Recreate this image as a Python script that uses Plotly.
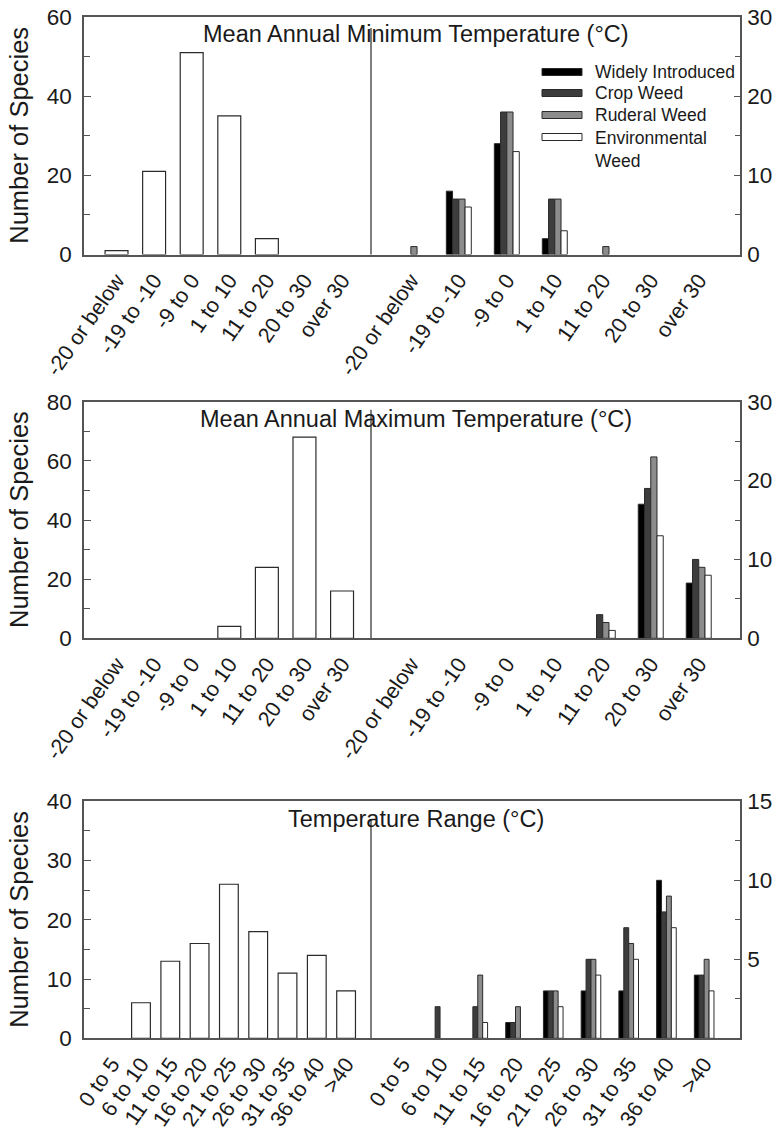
import plotly.graph_objects as go

# ---- data -------------------------------------------------------------
temp_categories = ["-20 or below", "-19 to -10", "-9 to 0", "1 to 10",
                   "11 to 20", "20 to 30", "over 30"]
range_categories = ["0 to 5", "6 to 10", "11 to 15", "16 to 20", "21 to 25",
                    "26 to 30", "31 to 35", "36 to 40", ">40"]

# Mean annual minimum temperature
min_all_species = [1, 21, 51, 35, 4, 0, 0]
min_widely_introduced = [0, 8, 14, 2, 0, 0, 0]
min_crop_weed = [0, 7, 18, 7, 0, 0, 0]
min_ruderal_weed = [1, 7, 18, 7, 1, 0, 0]
min_environmental_weed = [0, 6, 13, 3, 0, 0, 0]

# Mean annual maximum temperature
max_all_species = [0, 0, 0, 4, 24, 68, 16]
max_widely_introduced = [0, 0, 0, 0, 0, 17, 7]
max_crop_weed = [0, 0, 0, 0, 3, 19, 10]
max_ruderal_weed = [0, 0, 0, 0, 2, 23, 9]
max_environmental_weed = [0, 0, 0, 0, 1, 13, 8]

# Temperature range
range_all_species = [0, 6, 13, 16, 26, 18, 11, 14, 8]
range_widely_introduced = [0, 0, 0, 1, 3, 3, 3, 10, 4]
range_crop_weed = [0, 2, 2, 1, 3, 5, 7, 8, 4]
range_ruderal_weed = [0, 0, 4, 2, 3, 5, 6, 9, 5]
range_environmental_weed = [0, 0, 1, 0, 2, 4, 5, 7, 3]

group_names = ["Widely Introduced", "Crop Weed", "Ruderal Weed", "Environmental Weed"]
group_legend_text = ["Widely Introduced", "Crop Weed", "Ruderal Weed", "Environmental<br>Weed"]

# ---- styling ----------------------------------------------------------
FONT = "Liberation Sans, Arial, Helvetica, sans-serif"
INK = "#1a1a1a"
FRAME = "#555555"
OUTLINE = "#2a2a2a"
GROUP_COLORS = ["#000000", "#3d3d3d", "#8c8c8c", "#ffffff"]

W, H = 780, 1132
LEFT_X = (84, 371)
RIGHT_X = (371, 740)


def fx(px):
    return px / W


def fy(px):
    return 1 - px / H


panels = [
    dict(title="Mean Annual Minimum Temperature (°C)", top=17, base=254.5,
         cats=temp_categories, all=min_all_species,
         groups=[min_widely_introduced, min_crop_weed, min_ruderal_weed, min_environmental_weed],
         left_range=[-0.865, 6.77], right_range=[-0.83, 6.86], single_width=0.61,
         left_y=dict(range=[0, 60], dtick=20, minor0=10),
         right_y=dict(range=[0, 30], tickvals=[0, 10, 20, 30], minor0=5, minor_dtick=10),
         divider_gap=11),
    dict(title="Mean Annual Maximum Temperature (°C)", top=401.7, base=638.3,
         cats=temp_categories, all=max_all_species,
         groups=[max_widely_introduced, max_crop_weed, max_ruderal_weed, max_environmental_weed],
         left_range=[-0.865, 6.77], right_range=[-0.83, 6.86], single_width=0.61,
         left_y=dict(range=[0, 80], dtick=20, minor0=10),
         right_y=dict(range=[0, 30], tickvals=[0, 10, 20, 30], minor0=5, minor_dtick=10),
         divider_gap=8),
    dict(title="Temperature Range (°C)", top=801.3, base=1038.3,
         cats=range_categories, all=range_all_species,
         groups=[range_widely_introduced, range_crop_weed, range_ruderal_weed, range_environmental_weed],
         left_range=[-0.945, 8.85], right_range=[-0.83, 8.95], single_width=0.64,
         left_y=dict(range=[0, 40], dtick=10, minor0=5),
         right_y=dict(range=[0, 15], tickvals=[5, 10, 15], minor0=2.5, minor_dtick=5),
         divider_gap=19),
]

fig = go.Figure()
layout = dict(
    template="none",
    width=W, height=H, margin=dict(l=0, r=0, t=0, b=0, pad=0), autosize=False,
    paper_bgcolor="white", plot_bgcolor="white",
    showlegend=False, barmode="overlay",
    font=dict(family=FONT, color=INK),
)
annotations = []
shapes = []


def hide_zero(values):
    return [v if v else None for v in values]


for p, panel in enumerate(panels):
    li, ri = 2 * p + 1, 2 * p + 2
    ydom = [fy(panel["base"]), fy(panel["top"])]

    # all species (left half)
    fig.add_trace(go.Bar(
        x=panel["cats"], y=hide_zero(panel["all"]), width=panel["single_width"],
        marker=dict(color="white", line=dict(color=OUTLINE, width=1.2)),
        xaxis=f"x{li}", yaxis=f"y{li}", name="All species",
    ))
    # weed groups (right half)
    n = len(panel["groups"])
    bw = 0.13
    for j, (vals, name, col) in enumerate(zip(panel["groups"], group_names, GROUP_COLORS)):
        fig.add_trace(go.Bar(
            x=panel["cats"], y=hide_zero(vals), width=bw, offset=-bw * n / 2 + bw * j,
            marker=dict(color=col, line=dict(color=OUTLINE, width=1)),
            xaxis=f"x{ri}", yaxis=f"y{ri}", name=name,
        ))

    xcommon = dict(type="category", showline=True, linecolor=FRAME, linewidth=1.5,
                   mirror=True, ticks="", showgrid=False, zeroline=False, automargin=False,
                   tickangle=-55, ticklabelstandoff=3,
                   tickfont=dict(size=21.5, color=INK, family=FONT))
    layout[f"xaxis{li}"] = dict(xcommon, domain=[fx(LEFT_X[0]), fx(LEFT_X[1])],
                                anchor=f"y{li}", range=panel["left_range"])
    layout[f"xaxis{ri}"] = dict(xcommon, domain=[fx(RIGHT_X[0]), fx(RIGHT_X[1])],
                                anchor=f"y{ri}", range=panel["right_range"])

    ly = panel["left_y"]
    layout[f"yaxis{li}"] = dict(
        domain=ydom, anchor=f"x{li}", range=ly["range"], dtick=ly["dtick"], tick0=0,
        showline=True, linecolor=FRAME, linewidth=1.5, showgrid=False, zeroline=False,
        automargin=False, ticks="inside", ticklen=7, tickcolor=FRAME, ticklabelstandoff=6,
        minor=dict(ticks="inside", ticklen=6, tickcolor=FRAME, tick0=ly["minor0"], dtick=ly["dtick"]),
        tickfont=dict(size=22.5, color=INK, family=FONT),
    )
    ry = panel["right_y"]
    layout[f"yaxis{ri}"] = dict(
        domain=ydom, anchor=f"x{ri}", side="right", range=ry["range"],
        tickmode="array", tickvals=ry["tickvals"],
        showline=True, linecolor=FRAME, linewidth=1.5, showgrid=False, zeroline=False,
        automargin=False, ticks="inside", ticklen=6, tickcolor=FRAME, ticklabelstandoff=1,
        minor=dict(ticks="inside", ticklen=5, tickcolor=FRAME, tick0=ry["minor0"], dtick=ry["minor_dtick"]),
        tickfont=dict(size=22.5, color=INK, family=FONT),
    )

    # divider between the two halves
    shapes.append(dict(type="line", xref="paper", yref="paper",
                       x0=fx(LEFT_X[1]), x1=fx(LEFT_X[1]),
                       y0=fy(panel["base"]), y1=fy(panel["top"] + panel["divider_gap"]),
                       line=dict(color=FRAME, width=1.5)))

    # panel heading
    annotations.append(dict(text=panel["title"], xref="paper", yref="paper",
                            x=fx((LEFT_X[0] + RIGHT_X[1]) / 2 + 4), y=fy(panel["top"] + 17.5),
                            xanchor="center", yanchor="middle", showarrow=False,
                            font=dict(size=23.5, color=INK, family=FONT)))
    # y-axis title
    annotations.append(dict(text="Number of Species", xref="paper", yref="paper",
                            x=fx(19), y=fy((panel["top"] + panel["base"]) / 2),
                            textangle=-90, xanchor="center", yanchor="middle",
                            showarrow=False, font=dict(size=25.5, color=INK, family=FONT)))

# legend for weed groups (top panel)
legend_rows = [72, 93, 115, 137]
for y, label, col in zip(legend_rows, group_legend_text, GROUP_COLORS):
    shapes.append(dict(type="rect", xref="paper", yref="paper",
                       x0=fx(542), x1=fx(582), y0=fy(y + 3.5), y1=fy(y - 3.5),
                       fillcolor=col, line=dict(color=OUTLINE, width=1)))
    two_line = "<br>" in label
    annotations.append(dict(text=label, xref="paper", yref="paper",
                            x=fx(593), y=fy(y - 11) if two_line else fy(y),
                            xanchor="left", yanchor="top" if two_line else "middle",
                            align="left", showarrow=False,
                            font=dict(size=17.5, color=INK, family=FONT)))

layout["annotations"] = annotations
layout["shapes"] = shapes
fig.update_layout(**layout)
fig.write_html("out.html")
